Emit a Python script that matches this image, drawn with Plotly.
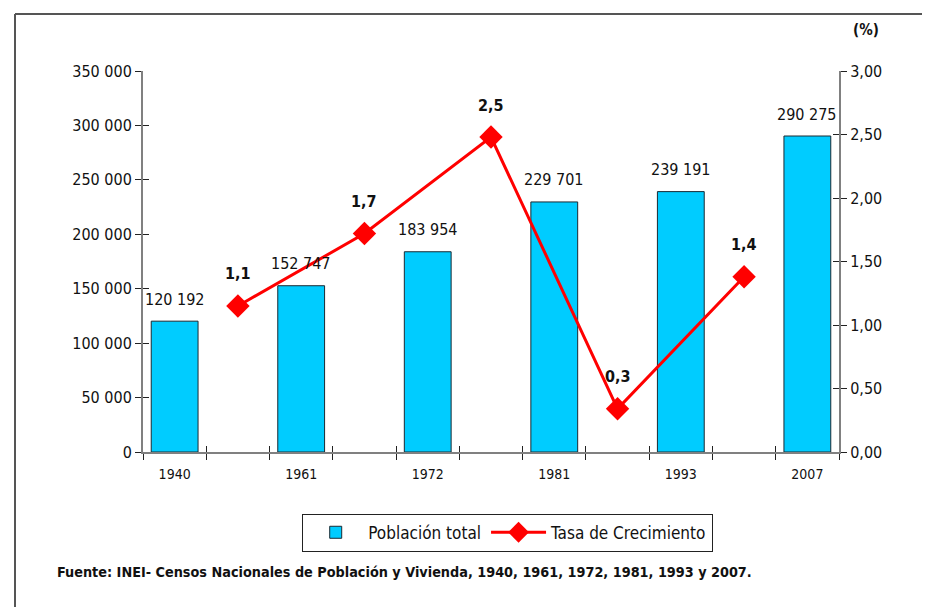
import plotly.graph_objects as go
import numpy as np

years = ["1940", "1961", "1972", "1981", "1993", "2007"]
poblacion = [120192, 152747, 183954, 229701, 239191, 290275]
poblacion_labels = ["120 192", "152 747", "183 954", "229 701", "239 191", "290 275"]
tasa = [1.15, 1.72, 2.48, 0.34, 1.38]
tasa_labels = ["1,1", "1,7", "2,5", "0,3", "1,4"]
y_left_ticks = [0, 50000, 100000, 150000, 200000, 250000, 300000, 350000]
y_left_text = ["0", "50 000", "100 000", "150 000", "200 000", "250 000", "300 000", "350 000"]
y_right_ticks = [0, 0.5, 1.0, 1.5, 2.0, 2.5, 3.0]
y_right_text = ["0,00", "0,50", "1,00", "1,50", "2,00", "2,50", "3,00"]

FONT = "Liberation Sans Narrow, Arial Narrow, DejaVu Sans Condensed, sans-serif"

xb = list(range(len(years)))
xl = [i + 0.5 for i in range(len(tasa))]
xrange_ = [-0.25, len(years) - 0.75]
xticks_minor = list(np.arange(xrange_[0], xrange_[1] + 0.01, 0.5))

fig = go.Figure()
fig.add_trace(go.Bar(
    x=xb, y=poblacion, name="Población total",
    marker=dict(color="#00CCFF", line=dict(color="#1a2a33", width=1)),
    width=0.37,
))
fig.add_trace(go.Scatter(
    x=xl, y=tasa, name="Tasa de Crecimiento", yaxis="y2",
    mode="lines+markers",
    line=dict(color="#FF0000", width=3),
    marker=dict(symbol="diamond", size=18, color="#FF0000"),
    cliponaxis=False,
))

for x, v, t in zip(xb, poblacion, poblacion_labels):
    fig.add_annotation(x=x, y=v, xref="x", yref="y", text=t,
                       showarrow=False, yshift=22,
                       font=dict(family=FONT, size=16, color="#111"))

for x, v, t in zip(xl, tasa, tasa_labels):
    fig.add_annotation(x=x, y=v, xref="x", yref="y2", text="<b>" + t + "</b>",
                       showarrow=False, yshift=32,
                       font=dict(family=FONT, size=16, color="#111"))

axis_common = dict(showgrid=False, zeroline=False, linecolor="#808080", linewidth=2,
                   tickcolor="#222", tickwidth=1)

fig.update_layout(
    width=922, height=599,
    margin=dict(l=135, r=91, t=63, b=155),
    paper_bgcolor="white", plot_bgcolor="white",
    font=dict(family=FONT, size=15, color="#111"),
    xaxis=dict(range=xrange_, tickvals=xticks_minor, ticktext=[""] * len(xticks_minor),
               ticks="outside", ticklen=6, showline=True, **axis_common),
    xaxis3=dict(range=xrange_, overlaying="x", tickvals=xb, ticktext=years,
                ticks="", showline=False, showgrid=False, zeroline=False,
                tickfont=dict(family=FONT, size=14, color="#111"), anchor="y",
                side="bottom", ticklabelstandoff=12),
    xaxis4=dict(range=xrange_, overlaying="x", tickvals=xticks_minor, showticklabels=False,
                ticks="inside", ticklen=6, showline=False, showgrid=False, zeroline=False,
                tickcolor="#222", anchor="y"),
    yaxis=dict(range=[0, 350000], tickvals=y_left_ticks, ticktext=y_left_text,
               ticks="outside", ticklen=6, showline=True,
               tickfont=dict(family=FONT, size=16, color="#111"), **axis_common),
    yaxis3=dict(range=[0, 350000], overlaying="y", tickvals=y_left_ticks,
                showticklabels=False, ticks="inside", ticklen=6, showline=False,
                showgrid=False, zeroline=False, tickcolor="#222", anchor="x"),
    yaxis2=dict(range=[0, 3.0], overlaying="y", side="right", tickvals=y_right_ticks,
                ticktext=y_right_text, ticks="outside", ticklen=6, showline=True,
                tickfont=dict(family=FONT, size=16, color="#111"), anchor="x", **axis_common),
    yaxis4=dict(range=[0, 3.0], overlaying="y", side="right", tickvals=y_right_ticks,
                showticklabels=False, ticks="inside", ticklen=6, showline=False,
                showgrid=False, zeroline=False, tickcolor="#222", anchor="x"),
    legend=dict(orientation="h", x=0.524, xanchor="center", y=-0.162, yanchor="top",
                bordercolor="#222", borderwidth=1, bgcolor="white",
                font=dict(family=FONT, size=17, color="#111"),
                itemwidth=55, tracegroupgap=0),
    showlegend=True,
)

# dummy traces to activate overlay axes
fig.add_trace(go.Scatter(x=[None], y=[None], xaxis="x3", yaxis="y", showlegend=False, hoverinfo="skip"))
fig.add_trace(go.Scatter(x=[None], y=[None], xaxis="x4", yaxis="y3", showlegend=False, hoverinfo="skip"))
fig.add_trace(go.Scatter(x=[None], y=[None], xaxis="x", yaxis="y4", showlegend=False, hoverinfo="skip"))

fig.add_annotation(xref="paper", yref="paper", x=(866 - 143) / 696, y=(452 - 30) / 381,
                   text="<b>(%)</b>", showarrow=False, xanchor="center", yanchor="middle",
                   font=dict(family=FONT, size=15, color="#111"))
fig.add_annotation(xref="paper", yref="paper", x=(55 - 143) / 696, y=(452 - 572) / 381,
                   text="<b>Fuente: INEI- Censos Nacionales de Población y Vivienda, 1940, 1961, 1972, 1981, 1993 y 2007.</b>",
                   showarrow=False, xanchor="left", yanchor="middle",
                   font=dict(family=FONT, size=14.3, color="#111"))

# outer frame: top and left edges (the right and bottom run off the picture)
bx0 = (15 - 143) / 696
by1 = (452 - 14) / 381
fig.add_shape(type="line", xref="paper", yref="paper", x0=bx0, y0=by1, x1=1.3, y1=by1,
              line=dict(color="#555", width=2), layer="below")
fig.add_shape(type="line", xref="paper", yref="paper", x0=bx0, y0=-0.6, x1=bx0, y1=by1,
              line=dict(color="#555", width=2), layer="below")

fig.write_html("out.html")
